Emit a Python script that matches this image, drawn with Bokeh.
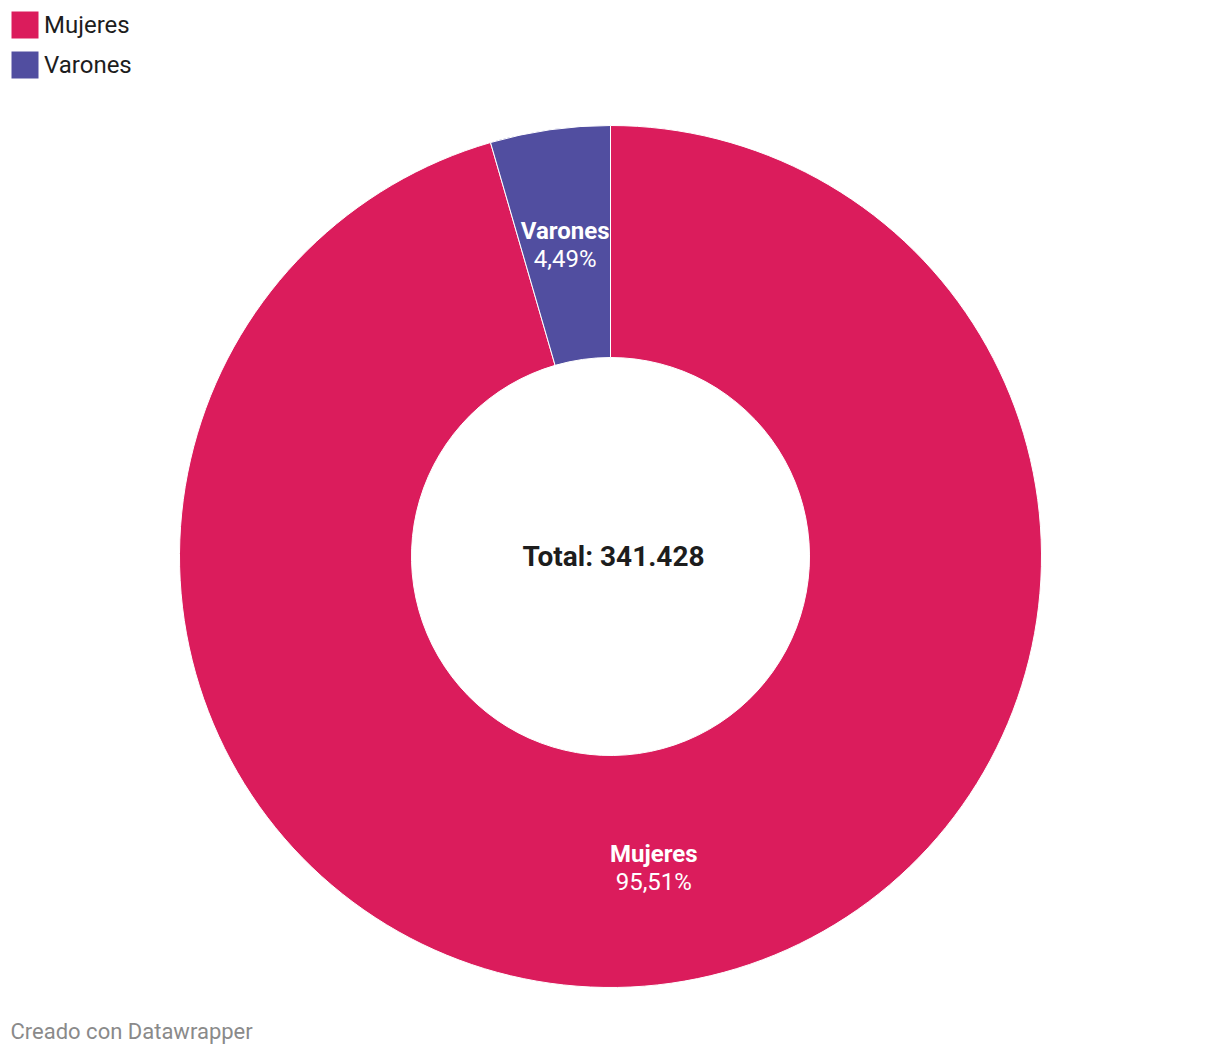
import math
from bokeh.plotting import figure
from bokeh.models import Range1d, Legend, LegendItem, Label, ColumnDataSource
from bokeh.core.properties import value
from bokeh.embed import file_html
from bokeh.resources import INLINE

# ---- data ----
categories = ["Mujeres", "Varones"]
shares = [95.51, 4.49]           # percent
pct_labels = ["95,51%", "4,49%"]
total_label = "Total: 341.428"
colors = ["#DB1C5C", "#514EA0"]

W, H = 1204, 1048
FONT = "Roboto"

p = figure(width=W, height=H, output_backend="svg", toolbar_location=None,
           x_range=Range1d(0, W), y_range=Range1d(0, H), min_border=0)
p.axis.visible = False
p.grid.visible = False
p.outline_line_color = None
p.background_fill_color = "white"
p.border_fill_color = "white"

cx, cy = 610, H - 556
r_out, r_in = 431, 199

# wedges (clockwise from 12 o'clock)
starts, ends, lx, ly = [], [], [], []
acc = 0.0
for s in shares:
    a0 = math.pi / 2 - acc / 100 * 2 * math.pi
    a1 = math.pi / 2 - (acc + s) / 100 * 2 * math.pi
    starts.append(a0)
    ends.append(a1)
    mid = (a0 + a1) / 2
    rm = (r_in + r_out) / 2
    lx.append(cx + rm * math.cos(mid))
    ly.append(cy + rm * math.sin(mid))
    acc += s

src = ColumnDataSource(dict(cat=categories, start=starts, end=ends, color=colors,
                            lx=lx, ly=ly, pct=pct_labels))
wedges = p.annular_wedge(x=cx, y=cy, inner_radius=r_in, outer_radius=r_out,
                         start_angle="start", end_angle="end", direction="clock",
                         fill_color="color", line_color="white", line_width=1,
                         source=src)

# slice labels
p.text(x="lx", y="ly", text="cat", source=src, text_color="white",
       text_font=value(FONT), text_font_style="bold", text_font_size="24px",
       text_align="center", text_baseline="middle", y_offset=-14, x_offset=-1)
p.text(x="lx", y="ly", text="pct", source=src, text_color="white",
       text_font=value(FONT), text_font_size="24px",
       text_align="center", text_baseline="middle", y_offset=14, x_offset=-1)

# total in center
p.add_layout(Label(x=cx + 3, y=cy, text=total_label, text_font=FONT,
                   text_font_style="bold", text_font_size="28px",
                   text_color="#1d1d1d", text_align="center",
                   text_baseline="middle"))

# credit
p.add_layout(Label(x=10, y=5, text="Creado con Datawrapper", text_font=FONT,
                   text_font_size="22px", text_color="#8a8a8a",
                   text_align="left", text_baseline="bottom"))

# legend
items = [LegendItem(label=c, renderers=[wedges], index=i) for i, c in enumerate(categories)]
legend = Legend(items=items, location="top_left", orientation="vertical",
                glyph_width=35, glyph_height=35, label_standoff=2, spacing=5,
                padding=0, margin=7, border_line_color=None,
                background_fill_alpha=0, label_text_font=FONT,
                label_text_font_size="24px", label_text_color="#1d1d1d",
                label_height=35)
p.add_layout(legend)

open("out.html", "w").write(file_html(p, INLINE))
